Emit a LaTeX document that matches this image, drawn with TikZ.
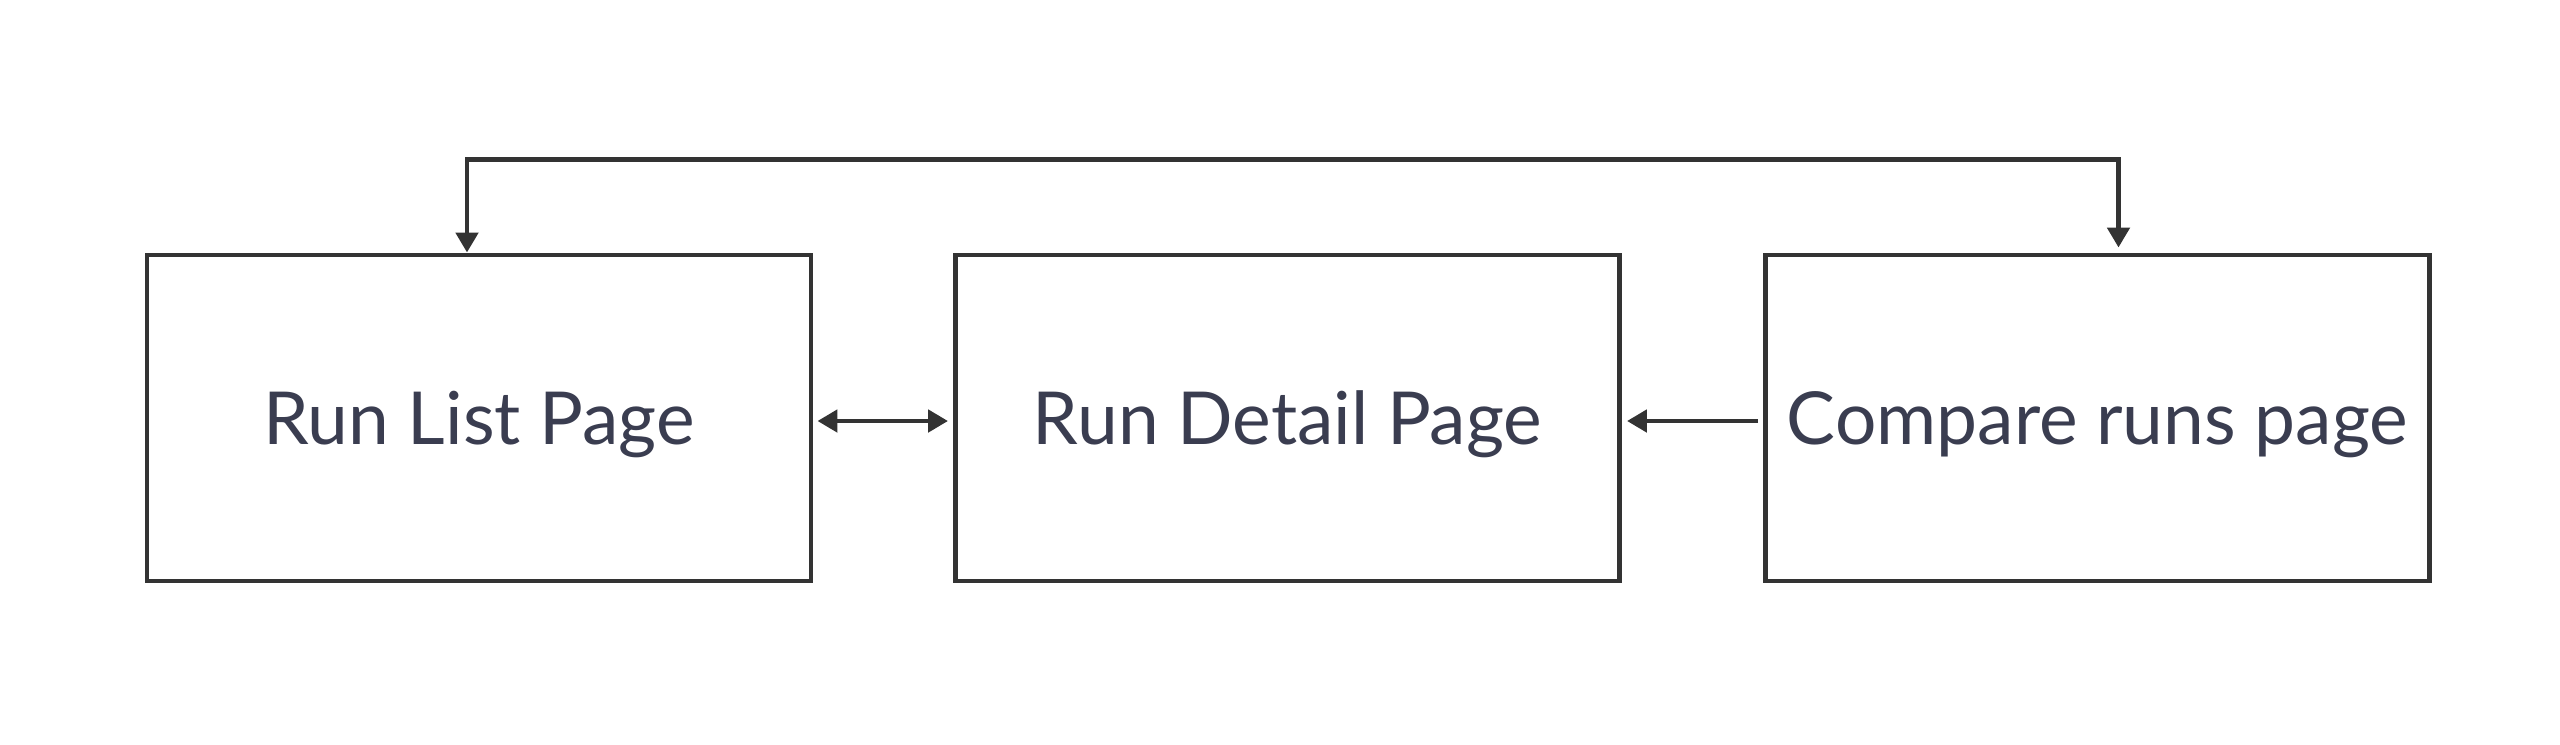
\documentclass[tikz,border=0pt]{standalone}
\usepackage{fontspec}
\setmainfont{Lato}
\usepackage{xcolor}
\usetikzlibrary{arrows.meta}

\definecolor{linegray}{HTML}{333333}
\definecolor{labelslate}{HTML}{3A3D50}

\tikzset{
	pagebox/.style={rectangle, draw=linegray, line width=1.4pt, minimum width=6.64cm, minimum height=3.26cm, inner sep=0pt, text depth=0pt, text=labelslate, font=\fontsize{20.8}{24}\selectfont},
	link/.style={draw=linegray, line width=1.4pt, -{Triangle[length=0.2cm, width=0.22cm]}}
}

\begin{document}
\begin{tikzpicture}
	\useasboundingbox (0, 0) rectangle (25.6, -7.44);

	\node[pagebox] (list) at (4.79, -4.18) {Run List Page};
	\node[pagebox] (detail) at (12.875, -4.18) {Run Detail Page};
	\node[pagebox] (compare) at (20.975, -4.18) {Compare runs page};

	% connections between the pages
	\draw[link, {Triangle[length=0.2cm, width=0.22cm]}-{Triangle[length=0.2cm, width=0.22cm]}] ([xshift=0.04cm, yshift=-0.03cm]list.east) -- ([xshift=-0.05cm, yshift=-0.03cm]detail.west);
	\draw[link] ([xshift=-0.05cm, yshift=-0.03cm]compare.west) -- ([xshift=0.05cm, yshift=-0.03cm]detail.east);
	\draw[link, {Triangle[length=0.2cm, width=0.22cm]}-{Triangle[length=0.2cm, width=0.22cm]}] ([xshift=-0.12cm]list.north) -- ++(0, 0.93) -| ([xshift=0.21cm, yshift=0.05cm]compare.north);
\end{tikzpicture}
\end{document}
